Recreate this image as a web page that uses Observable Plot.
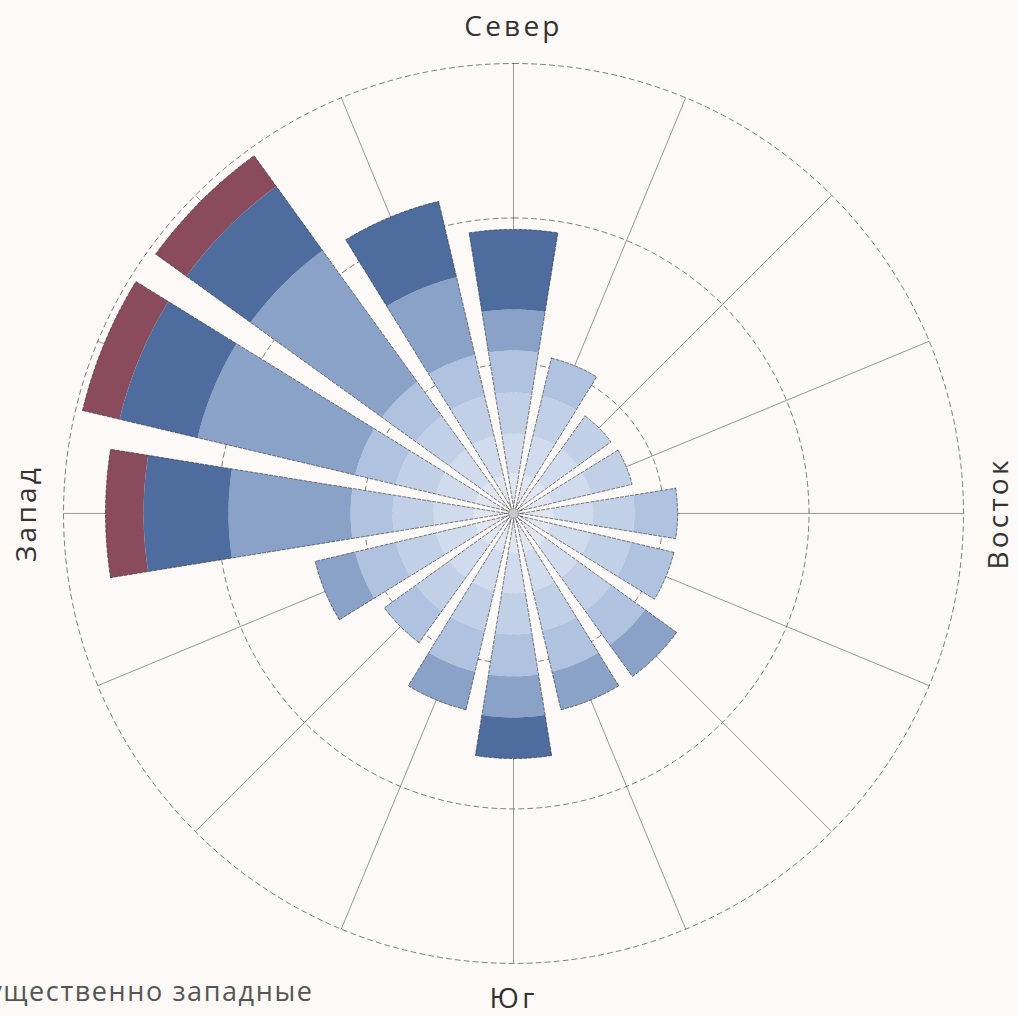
<!DOCTYPE html>
<html>
<head>
<meta charset="utf-8">
<script src="https://cdn.jsdelivr.net/npm/d3@7"></script>
<script src="https://cdn.jsdelivr.net/npm/@observablehq/plot@0.6"></script>
<style>
  html, body { margin: 0; padding: 0; background: #fcf9f6; overflow: hidden; }
  #chart svg { display: block; background: transparent; }
  #chart .lbl text, #chart text.lbl { letter-spacing: 3.2px; }
  #chart .cap text, #chart text.cap { letter-spacing: 1.6px; }
</style>
</head>
<body>
<div id="chart"></div>
<script>
// ---- Data (frequency, %) ----
const directions = ["С", "ССВ", "СВ", "ВСВ", "В", "ВЮВ", "ЮВ", "ЮЮВ", "Ю", "ЮЮЗ", "ЮЗ", "ЗЮЗ", "З", "ЗСЗ", "СЗ", "ССЗ"];
const speedClasses = ["Класс 1", "Класс 2", "Класс 3", "Класс 4", "Класс 5", "Класс 6", "Класс 7"];
const class1 = [1.33, 1.33, 1.33, 1.33, 1.33, 1.33, 1.33, 1.33, 1.33, 1.33, 1.33, 1.33, 1.33, 1.33, 1.33, 1.33];
const class2 = [1.33, 1.33, 1.33, 1.33, 1.33, 1.33, 1.33, 1.33, 1.33, 1.33, 1.33, 1.33, 1.33, 1.33, 1.33, 1.33];
const class3 = [1.37, 1.37, 1.37, 1.41, 1.37, 1.37, 1.37, 1.37, 1.37, 1.37, 1.37, 1.37, 1.37, 1.37, 1.37, 1.37];
const class4 = [1.40, 1.30, 0, 0, 1.44, 1.47, 1.40, 1.40, 1.40, 1.40, 1.30, 1.40, 1.40, 1.40, 1.40, 1.40];
const class5 = [1.37, 0, 0, 0, 0, 0, 1.30, 1.30, 1.37, 1.30, 0, 1.37, 4.07, 5.40, 5.40, 2.67];
const class6 = [2.67, 0, 0, 0, 0, 0, 0, 0, 1.37, 0, 0, 0, 2.83, 2.67, 2.64, 2.60];
const class7 = [0, 0, 0, 0, 0, 0, 0, 0, 0, 0, 0, 0, 1.27, 1.27, 1.26, 0];
const gridRings = [5, 9.85, 15];
const cardinalLabels = ["Север", "Восток", "Юг", "Запад"];
const caption = "Преимущественно западные";
const palette = ["#dfe6f2", "#d0dbed", "#c1cfe7", "#afc2df", "#8aa2c8", "#4e6c9e", "#8a4c5d"];

// ---- Geometry helpers (polar -> cartesian, in data units) ----
const classSeries = [class1, class2, class3, class4, class5, class6, class7];
const step = 2 * Math.PI / directions.length;
const half = 9.2 * Math.PI / 180;     // half angular width of a bar
const pad = 0.035;                    // constant half-gap (data units)
const apex = pad / Math.sin(half);
const edge = r => r <= apex ? 0 : half - Math.asin(pad / r);
const pt = (r, a) => ({x: r * Math.sin(a), y: r * Math.cos(a)});

function wedge(theta, r0, r1, n = 28) {
  const pts = [];
  const a1 = edge(r1), a0 = edge(Math.max(r0, apex));
  for (let k = 0; k <= n; k++) pts.push(pt(r1, theta - a1 + 2 * a1 * k / n));
  for (let k = n; k >= 0; k--) pts.push(pt(Math.max(r0, apex), theta - a0 + 2 * a0 * k / n));
  pts.push(pts[0]);
  return pts;
}

const segPts = [], outlinePts = [];
directions.forEach((dir, i) => {
  const theta = i * step;
  let r0 = 0;
  classSeries.forEach((series, c) => {
    const v = series[i];
    if (v > 0) {
      wedge(theta, r0, r0 + v).forEach(p => segPts.push({...p, key: dir + "-" + c, cls: speedClasses[c]}));
      r0 += v;
    }
  });
  wedge(theta, 0, r0).forEach(p => outlinePts.push({...p, key: dir}));
});

const ringPts = gridRings.flatMap(r => d3.range(0, 361, 1).map(d => ({...pt(r, d * Math.PI / 180), ring: r})));
const spokes = directions.map((d, i) => pt(gridRings[gridRings.length - 1], i * step));
const labelR = 16.2;
const labels = cardinalLabels.map((t, i) => ({...pt(labelR, i * 4 * step), text: t, rot: i % 2 ? -90 : 0}));

const chart = Plot.plot({
  width: 1017,
  height: 1016,
  margin: 0,
  x: {domain: [-17.1, 16.8], axis: null},
  y: {domain: [-16.77, 17.1], axis: null},
  color: {type: "ordinal", domain: speedClasses, range: palette},
  style: {fontFamily: "'Open Sans', sans-serif", background: "transparent"},
  marks: [
    Plot.line(ringPts, {x: "x", y: "y", z: "ring", stroke: "#444", strokeWidth: 0.8, strokeDasharray: "5,4", strokeOpacity: 0.85}),
    Plot.link(spokes, {x1: 0, y1: 0, x2: "x", y2: "y", stroke: "#555", strokeWidth: 0.7, strokeOpacity: 0.85}),
    Plot.line(segPts, {x: "x", y: "y", z: "key", fill: "cls", stroke: "none"}),
    Plot.line(outlinePts, {x: "x", y: "y", z: "key", stroke: "#2a2a2a", strokeWidth: 0.8, strokeDasharray: "3,2", strokeOpacity: 0.75, fill: "none"}),
    Plot.dot([{x: 0, y: 0}], {x: "x", y: "y", r: 5, fill: "#c4c8cc", stroke: "#999", strokeWidth: 1}),
    Plot.text(labels, {x: "x", y: "y", text: "text", rotate: "rot", fontSize: 28, fill: "#333", lineAnchor: "middle", className: "lbl"}),
    Plot.text([caption], {frameAnchor: "bottom-left", textAnchor: "end", dx: 313, dy: -24, fontSize: 27, fill: "#555", lineAnchor: "middle", className: "cap"})
  ]
});
document.getElementById("chart").appendChild(chart);
</script>
</body>
</html>
